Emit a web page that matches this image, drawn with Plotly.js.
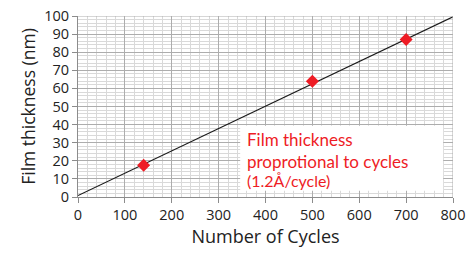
<!DOCTYPE html>
<html><head><meta charset="utf-8">
<script src="https://cdn.plot.ly/plotly-3.0.1.min.js"></script>
<style>html,body{margin:0;padding:0;background:#fff}#c{width:469px;height:253px}</style>
</head><body><div id="c"></div>
<script>
const cycles = [140, 500, 700];
const thickness = [17.6, 64, 87];
const fitX = [0, 800];
const fitY = [0.8, 99.6];
const xTicks = [0,100,200,300,400,500,600,700,800];
const yTicks = [0,10,20,30,40,50,60,70,80,90,100];
const noteLines = ["Film thickness", "proprotional to cycles", "(1.2Å/cycle)"];

const traces = [
  {x: fitX, y: fitY, mode: 'lines', line: {color: '#1a1a1a', width: 1.2}, hoverinfo: 'skip'},
  {x: cycles, y: thickness, mode: 'markers', marker: {symbol: 'diamond', size: 10, color: '#ee1c25'}}
];
const axFont = {family: 'Open Sans, sans-serif', size: 14.5, color: '#222'};
const layout = {
  width: 469, height: 253,
  margin: {l: 78, r: 16, t: 16, b: 56},
  showlegend: false,
  paper_bgcolor: '#fff', plot_bgcolor: '#fff',
  xaxis: {
    range: [0, 800], tickvals: xTicks, ticktext: xTicks.map(String),
    showgrid: true, gridcolor: '#adadad', gridwidth: 1,
    minor: {dtick: 20, showgrid: true, gridcolor: '#d9d9d9', gridwidth: 1},
    showline: true, linecolor: '#8c8c8c', mirror: false,
    ticks: 'outside', ticklen: 5, tickcolor: '#8c8c8c',
    tickfont: axFont, zeroline: false,
    title: {text: 'Number of Cycles', font: {family: 'Open Sans, sans-serif', size: 18, color: '#222'}, standoff: 3}
  },
  yaxis: {
    range: [0, 100], tickvals: yTicks, ticktext: yTicks.map(String),
    showgrid: true, gridcolor: '#adadad', gridwidth: 1,
    minor: {dtick: 2, showgrid: true, gridcolor: '#d9d9d9', gridwidth: 1},
    showline: true, linecolor: '#8c8c8c',
    ticks: 'outside', ticklen: 5, tickcolor: '#8c8c8c',
    tickfont: axFont, zeroline: false,
    title: {text: 'Film thickness (nm)', font: {family: 'Open Sans, sans-serif', size: 17.5, color: '#222'}, standoff: 4}
  },
  shapes: [
    {type: 'rect', xref: 'x', yref: 'y', x0: 346, x1: 779, y0: 3.5, y1: 39.3, fillcolor: '#fff', line: {width: 0}, layer: 'above'},
    {type: 'line', xref: 'x', yref: 'paper', x0: 800, x1: 800, y0: 0, y1: 1, line: {color: '#adadad', width: 1}},
    {type: 'line', xref: 'paper', yref: 'y', x0: 0, x1: 1, y0: 100, y1: 100, line: {color: '#adadad', width: 1}}
  ],
  annotations: [
    {xref: 'x', yref: 'y', x: 356, y: 31.5, xanchor: 'left', yanchor: 'middle', text: noteLines[0], showarrow: false, font: {family: 'Lato, sans-serif', size: 17, color: '#ee1c25'}},
    {xref: 'x', yref: 'y', x: 356, y: 19.6, xanchor: 'left', yanchor: 'middle', text: noteLines[1], showarrow: false, font: {family: 'Lato, sans-serif', size: 17, color: '#ee1c25'}},
    {xref: 'x', yref: 'y', x: 356, y: 9, xanchor: 'left', yanchor: 'middle', text: noteLines[2], showarrow: false, font: {family: 'Lato, sans-serif', size: 16, color: '#ee1c25'}}
  ]
};
Plotly.newPlot('c', traces, layout, {displayModeBar: false, staticPlot: true});
</script></body></html>
